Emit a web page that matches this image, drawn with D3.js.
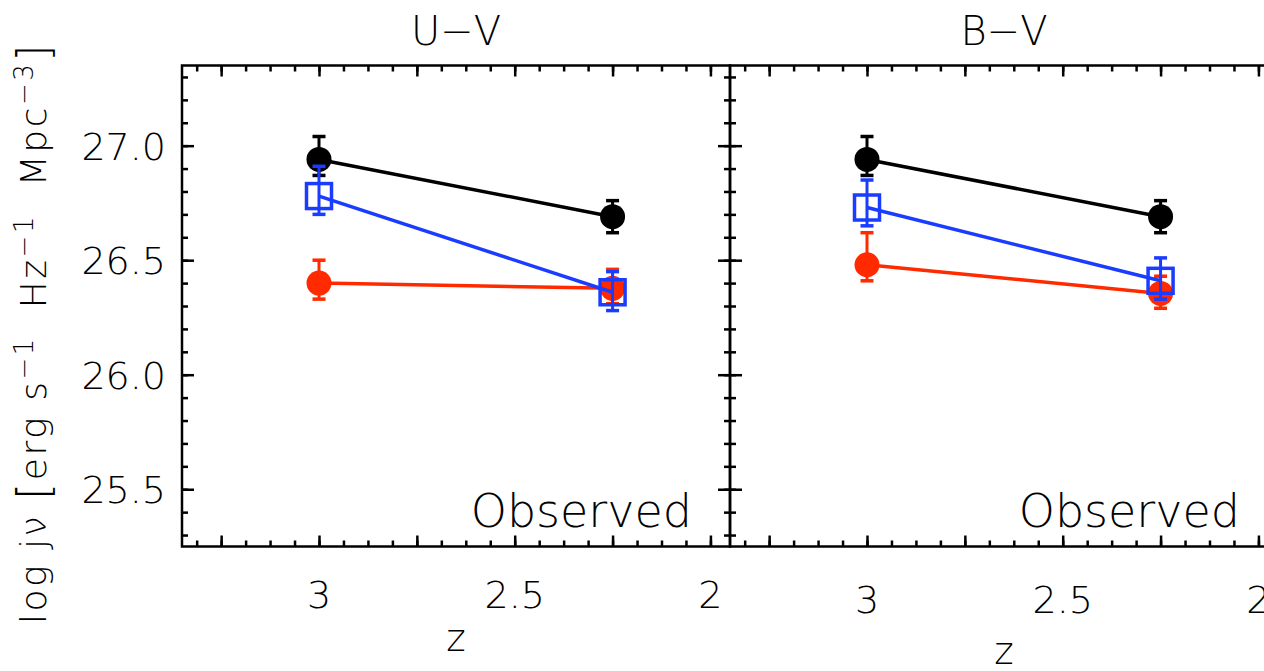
<!DOCTYPE html>
<html>
<head>
<meta charset="utf-8">
<script src="https://cdn.jsdelivr.net/npm/d3@7"></script>
<style>
  html, body { margin: 0; padding: 0; background: #fff; }
  svg text { font-family: "DejaVu Sans", sans-serif; font-weight: 200; fill: #000; white-space: pre; }
</style>
</head>
<body>
<svg id="chart" width="1264" height="671"></svg>
<script>
// redshift bins
const zVals = [3.0, 2.25];

// U-V split: total, red and blue populations (log j_nu) with error bar ends
const uvTotal = [26.94, 26.69];
const uvTotalLo = [26.87, 26.62];
const uvTotalHi = [27.04, 26.76];
const uvRed = [26.40, 26.377];
const uvRedLo = [26.33, 26.31];
const uvRedHi = [26.50, 26.46];
const uvBlue = [26.78, 26.36];
const uvBlueLo = [26.70, 26.28];
const uvBlueHi = [26.91, 26.45];

// B-V split
const bvTotal = [26.94, 26.69];
const bvTotalLo = [26.87, 26.62];
const bvTotalHi = [27.04, 26.76];
const bvRed = [26.48, 26.355];
const bvRedLo = [26.41, 26.29];
const bvRedHi = [26.62, 26.43];
const bvBlue = [26.73, 26.41];
const bvBlueLo = [26.65, 26.33];
const bvBlueHi = [26.85, 26.51];

const panelTitles = ['U\u2212V', 'B\u2212V'];
const zLabels = [3, 2.5, 2];
const yLabels = [25.5, 26.0, 26.5, 27.0];

const colours = { total: '#000000', red: '#ff2a00', blue: '#1a3cff' };

const series = [
  [
    { key: 'total', y: uvTotal, lo: uvTotalLo, hi: uvTotalHi, shape: 'circle' },
    { key: 'red', y: uvRed, lo: uvRedLo, hi: uvRedHi, shape: 'circle' },
    { key: 'blue', y: uvBlue, lo: uvBlueLo, hi: uvBlueHi, shape: 'square' }
  ],
  [
    { key: 'total', y: bvTotal, lo: bvTotalLo, hi: bvTotalHi, shape: 'circle' },
    { key: 'red', y: bvRed, lo: bvRedLo, hi: bvRedHi, shape: 'circle' },
    { key: 'blue', y: bvBlue, lo: bvBlueLo, hi: bvBlueHi, shape: 'square' }
  ]
];

const svg = d3.select('#chart');
const plotTop = 65.5, plotBottom = 546.5, panelW = 548, left0 = 182;

const y = d3.scaleLinear().domain([25.25, 27.35]).range([plotBottom, plotTop]);

const zMinor = d3.range(0, 23).map(i => 3.3125 - i * 0.0625).filter(v => v > 1.95 && v < 3.35);
const zMajor = [3.25, 3.0, 2.75, 2.5, 2.25, 2.0];
const yMinor = d3.range(25.3, 27.35, 0.1).map(v => +v.toFixed(1));
const yMajor = yLabels;

panelTitles.forEach((title, p) => {
  const x0 = left0 + p * panelW;
  const x = d3.scaleLinear().domain([3.35, 1.95]).range([x0, x0 + panelW]);
  const g = svg.append('g');
  const labelShift = p === 0 ? 0 : 5;

  // inward ticks on all four sides
  const addAxis = (axis, transform) => {
    const a = g.append('g').attr('transform', transform).call(axis);
    a.select('.domain').remove();
    a.selectAll('line').attr('stroke', '#000').attr('stroke-width', 2.5);
    a.selectAll('text').remove();
  };
  addAxis(d3.axisBottom(x).tickValues(zMinor).tickSize(-6).tickSizeOuter(0), `translate(0,${plotBottom})`);
  addAxis(d3.axisBottom(x).tickValues(zMajor).tickSize(-11).tickSizeOuter(0), `translate(0,${plotBottom})`);
  addAxis(d3.axisTop(x).tickValues(zMinor).tickSize(-6).tickSizeOuter(0), `translate(0,${plotTop})`);
  addAxis(d3.axisTop(x).tickValues(zMajor).tickSize(-11).tickSizeOuter(0), `translate(0,${plotTop})`);
  addAxis(d3.axisLeft(y).tickValues(yMinor).tickSize(-6).tickSizeOuter(0), `translate(${x0},0)`);
  addAxis(d3.axisLeft(y).tickValues(yMajor).tickSize(-12).tickSizeOuter(0), `translate(${x0},0)`);
  addAxis(d3.axisRight(y).tickValues(yMinor).tickSize(-6).tickSizeOuter(0), `translate(${x0 + panelW},0)`);
  addAxis(d3.axisRight(y).tickValues(yMajor).tickSize(-12).tickSizeOuter(0), `translate(${x0 + panelW},0)`);

  g.append('rect')
    .attr('x', x0).attr('y', plotTop)
    .attr('width', panelW).attr('height', plotBottom - plotTop)
    .attr('fill', 'none').attr('stroke', '#000').attr('stroke-width', 2.5);

  // x tick labels
  g.selectAll('.zlab').data(zLabels).join('text')
    .attr('x', d => x(d))
    .attr('y', plotBottom + 61 + labelShift)
    .attr('text-anchor', 'middle')
    .attr('font-size', 38)
    .text(d => d);

  g.append('text')
    .attr('x', x0 + panelW / 2)
    .attr('y', p === 0 ? 651 : 664)
    .attr('text-anchor', 'middle')
    .attr('font-size', 37)
    .text('z');

  g.append('text')
    .attr('x', x0 + panelW / 2)
    .attr('y', 45)
    .attr('text-anchor', 'middle')
    .attr('font-size', 40)
    .text(title);

  g.append('text')
    .attr('x', x0 + panelW - 38)
    .attr('y', 527)
    .attr('text-anchor', 'end')
    .attr('font-size', 46)
    .text('Observed');

  // connecting lines, error bars and markers
  series[p].forEach(s => {
    const c = colours[s.key];
    const pts = zVals.map((z, i) => ({ z, v: s.y[i], lo: s.lo[i], hi: s.hi[i] }));
    const sg = g.append('g');

    sg.append('path')
      .datum(pts)
      .attr('fill', 'none')
      .attr('stroke', c)
      .attr('stroke-width', 3.5)
      .attr('d', d3.line().x(d => x(d.z)).y(d => y(d.v)));

    const eb = sg.selectAll('.eb').data(pts).join('g');
    eb.append('line')
      .attr('x1', d => x(d.z)).attr('x2', d => x(d.z))
      .attr('y1', d => y(d.lo)).attr('y2', d => y(d.hi))
      .attr('stroke', c).attr('stroke-width', 3);
    ['lo', 'hi'].forEach(k => {
      eb.append('line')
        .attr('x1', d => x(d.z) - 6.5).attr('x2', d => x(d.z) + 6.5)
        .attr('y1', d => y(d[k])).attr('y2', d => y(d[k]))
        .attr('stroke', c).attr('stroke-width', 3.5);
    });

    if (s.shape === 'circle') {
      sg.selectAll('.pt').data(pts).join('circle')
        .attr('cx', d => x(d.z)).attr('cy', d => y(d.v))
        .attr('r', 12.5).attr('fill', c);
    } else {
      sg.selectAll('.pt').data(pts).join('rect')
        .attr('x', d => x(d.z) - 12.5).attr('y', d => y(d.v) - 12.5)
        .attr('width', 25).attr('height', 25)
        .attr('fill', 'none').attr('stroke', c).attr('stroke-width', 3.5);
    }
  });
});

// y tick labels on the left panel
svg.selectAll('.ylab').data(yLabels).join('text')
  .attr('x', 166)
  .attr('y', d => y(d) + 14)
  .attr('text-anchor', 'end')
  .attr('font-size', 38)
  .text(d => d.toFixed(1));

// y axis title
const yt = svg.append('text')
  .attr('transform', 'translate(46,333) rotate(-90)')
  .attr('text-anchor', 'middle')
  .attr('font-size', 36)
  .attr('letter-spacing', 2.5);
yt.append('tspan').text('log j\u03bd ');
yt.append('tspan').attr('font-size', 44).attr('dy', 3).text('[');
yt.append('tspan').attr('dy', -3).text('erg s');
yt.append('tspan').attr('dy', -13).attr('font-size', 26).text('\u22121');
yt.append('tspan').attr('dy', 13).text('  Hz');
yt.append('tspan').attr('dy', -13).attr('font-size', 26).text('\u22121');
yt.append('tspan').attr('dy', 13).text('  Mpc');
yt.append('tspan').attr('dy', -13).attr('font-size', 26).text('\u22123');
yt.append('tspan').attr('dy', 16).attr('font-size', 44).text(']');
</script>
</body>
</html>
